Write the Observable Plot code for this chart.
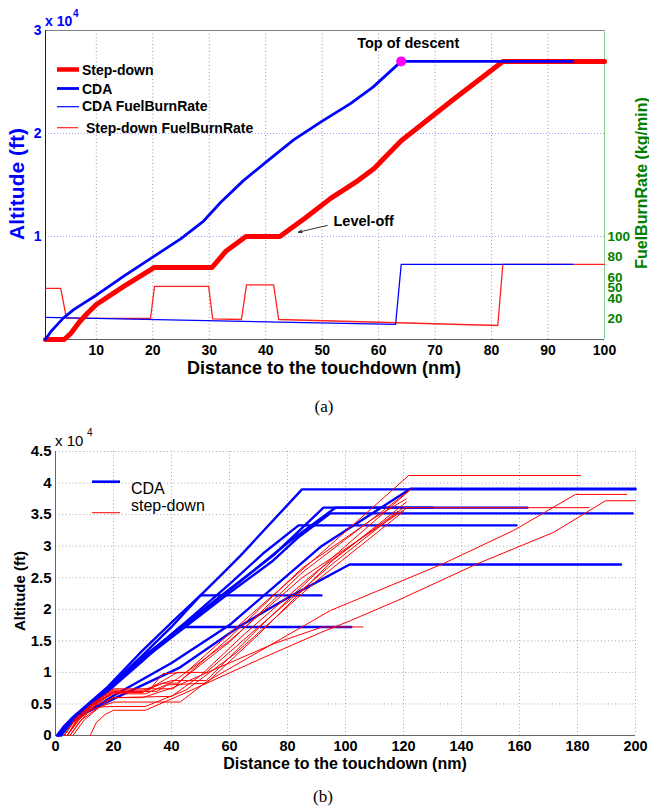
<!DOCTYPE html>
<html><head><meta charset="utf-8">
<script src="https://cdn.jsdelivr.net/npm/d3@7"></script>
<script src="https://cdn.jsdelivr.net/npm/@observablehq/plot@0.6"></script>
<style>
html,body{margin:0;padding:0;background:#fff}
body{width:649px;height:806px;position:relative;overflow:hidden;font-family:"Liberation Sans",Arial,sans-serif}
.abs{position:absolute;left:0}
#over{position:absolute;left:0;top:0;pointer-events:none}
</style></head><body>
<div id="pa" class="abs" style="top:0"></div>
<div id="pb" class="abs" style="top:420px"></div>
<svg id="over" width="649" height="806" xmlns="http://www.w3.org/2000/svg"></svg>
<script>
// ---------- Panel (a) data ----------
const aXTicks = [10, 20, 30, 40, 50, 60, 70, 80, 90, 100];
const aAltTicks = [10000, 20000, 30000];
const aFuelTicks = [20, 40, 50, 60, 80, 100];

const aCdaDist = [1, 2, 3, 4.2, 6, 8, 10, 15, 20, 25, 29, 32, 36, 40, 45, 50, 55, 59, 64, 94.4];
const aCdaAlt  = [0, 800, 1400, 2100, 2900, 3600, 4300, 6200, 8000, 9800, 11500, 13300, 15400, 17200, 19400, 21200, 22900, 24500, 27000, 27000];

const aStepDist = [1, 4.3, 5.5, 7, 8.5, 10, 15, 20.3, 30.5, 33, 36.5, 42.5, 47, 51.5, 56, 59.2, 64, 73, 82, 100];
const aStepAlt  = [0, 0, 600, 1700, 2600, 3400, 5200, 7000, 7000, 8600, 10000, 10000, 11800, 13700, 15300, 16600, 19300, 23200, 27000, 27000];

const aCdaFuelDist = [1, 63, 64, 94.4];
const aCdaFuel     = [21.4, 14.6, 73, 73];

const aStepFuelDist = [1, 3.7, 4.7, 19.6, 20.3, 29.9, 30.6, 35.7, 36.6, 41.4, 42.3, 81.1, 82, 100];
const aStepFuel     = [49.7, 49.7, 20.8, 20.4, 51.5, 51.5, 20.0, 19.4, 53.0, 53.0, 19.4, 13.6, 73, 73];

const aTopOfDescent = [64, 27000];
const aLevelOffArrow = [50.9, 11070, 45.8, 10420];
const aLevelOffText = [52, 11450];

// ---------- Panel (b) data ----------
const bXTicks = [0, 20, 40, 60, 80, 100, 120, 140, 160, 180, 200];
const bYTicks = [0, 5000, 10000, 15000, 20000, 25000, 30000, 35000, 40000, 45000];

const cda1 = [[0.5,0],[3,1500],[6,2900],[18,7700],[29,13000],[40.7,18200],[50,22200],[57.7,25700],[63.8,28500],[85,39000],[200,39000]];
const cda2 = [[1,0],[3,1300],[6,2600],[18,7300],[30,12300],[45,17800],[60,23200],[75,28500],[83,32000],[92.4,36100],[162.7,36100]];
const cda3 = [[1,0],[3,1200],[6,2500],[18,7100],[30,12000],[45,17300],[60,22600],[75,27700],[84,31500],[94.8,35200],[199,35200]];
const cda4 = [[1.5,0],[3.5,1200],[6,2400],[18,7000],[30,12200],[45,18000],[60,24000],[72,29000],[83.8,33300],[159,33300]];
const cda5 = [[1,0],[4,1500],[7.5,2900],[20,5800],[43,10800],[63.8,17400],[80,21800],[101.4,27100],[195,27100]];
const cda6 = [[1,0],[3,1400],[6,2800],[18,7500],[30,12700],[40,17200],[50,22200],[91.7,22200]];
const cda7 = [[1,0],[3,1300],[6,2500],[18,7000],[30,11800],[43,17200],[102,17200]];
const cda8 = [[2,0],[5,1800],[9,3200],[20,6300],[40,11500],[60,17500],[91.4,29900],[122.4,39100],[200,39100]];
const cda9 = [[1,0],[3,1300],[6,2600],[18,7200],[30,12400],[45,17600],[60,23000],[80,30500],[96.5,36100],[130,36100]];

const sd1  = [[4,0],[7,2200],[12,4500],[20,7000],[32,7000],[37,9800],[45,10000],[65,18200],[91.4,28800],[121.8,41200],[181,41200]];
const sd2  = [[3,0],[6,2000],[12,4800],[20,7200],[30,7200],[40,8700],[52,8700],[70,17000],[95,28000],[122.5,39000]];
const sd3  = [[5,0],[8,2000],[13,4600],[20,6800],[30,6800],[42,10000],[52,10000],[70,17200],[95,27000],[120,36100],[184,36100]];
const sd4  = [[3,0],[6,2000],[12,4000],[20,5300],[43,5300],[52,8500],[94.8,19800],[133.8,27250],[158,32500],[179.3,38200],[197,38200]];
const sd5  = [[12,0],[14,2000],[17,3300],[20,4000],[31,4000],[45,6800],[70,12000],[91.4,16300],[101.7,18200],[118,21400],[145.4,27200],[171.8,32200],[189.7,37200],[200,37200]];
const sd6  = [[4,0],[8,2500],[14,4800],[20,6000],[30,6000],[40,7500],[55,10500],[75,14500],[92,17200],[106,17200]];
const sd7  = [[3,0],[7,2800],[13,5200],[20,7400],[40.7,7400],[45,9500],[60,15500],[85,26500],[110,34500],[121,37500]];
const sd8  = [[4,0],[8,2800],[14,5200],[20,6600],[31,6600],[38,8000],[52,8300],[70,16000],[95,27500],[121,37000]];
const sd9  = [[5,0],[9,2500],[15,4500],[20,4600],[31,4600],[45,7200],[62,13000],[90,24500],[120,35500]];
const sd10 = [[4,0],[9,3000],[15,5400],[20,7000],[35,7000],[42,9000],[60,15000],[85,25000],[121,36000]];
const sd11 = [[6,0],[10,2500],[16,4800],[20,6000],[40,6200],[50,9500],[65,16000],[90,26000],[118,35500]];
const sd12 = [[3,0],[7,2600],[13,5000],[20,6900],[30,6900],[37,8300],[42,8300],[60,14800],[85,25800],[122,38800]];

const cdaSeries = [cda1, cda2, cda3, cda4, cda5, cda6, cda7, cda8, cda9];
const stepSeries = [sd1, sd2, sd3, sd4, sd5, sd6, sd7, sd8, sd9, sd10, sd11, sd12];

// ---------- helpers ----------
const zip = (xs, ys) => xs.map((x, i) => ({x, y: ys[i]}));
const rows = (series) => series.flatMap((pts, k) => pts.map(([x, y]) => ({x, y, k})));
const FONT = '"Liberation Sans", Arial, sans-serif';

// ---------- Panel (a) ----------
const plotA = Plot.plot({
  width: 649, height: 380,
  marginLeft: 45, marginRight: 45, marginTop: 30, marginBottom: 41,
  style: {fontFamily: FONT, fontSize: "14px", fontWeight: "bold", background: "transparent", overflow: "visible"},
  x: {domain: [1, 100]},
  y: {domain: [0, 30000]},
  marks: [
    Plot.ruleX(aXTicks.filter(d => d < 100), {stroke: "#999", strokeWidth: 1, strokeDasharray: "1,2.5"}),
    Plot.ruleY(aAltTicks.filter(d => d < 30000), {stroke: "#a0a0ff", strokeWidth: 1, strokeDasharray: "1,2"}),
    Plot.ruleY([30000], {stroke: "#808080"}),
    Plot.ruleY([0], {stroke: "#606060"}),
    Plot.ruleX([1], {stroke: "#0000ff"}),
    Plot.ruleX([100], {stroke: "#90d090"}),
    Plot.line(zip(aStepFuelDist, aStepFuel), {x: "x", y: d => d.y * 100, stroke: "#ff2020", strokeWidth: 1.3}),
    Plot.line(zip(aCdaFuelDist, aCdaFuel), {x: "x", y: d => d.y * 100, stroke: "#0000ff", strokeWidth: 1.3}),
    Plot.line(zip(aStepDist, aStepAlt), {x: "x", y: "y", stroke: "#ff0000", strokeWidth: 5}),
    Plot.line(zip(aCdaDist, aCdaAlt), {x: "x", y: "y", stroke: "#0000ff", strokeWidth: 2.8}),
    Plot.dot([aTopOfDescent], {x: d => d[0], y: d => d[1], r: 5, fill: "#ff00ff", stroke: "none"}),
    Plot.text([aTopOfDescent], {x: d => d[0], y: d => d[1], text: () => "Top of descent", dx: 7, dy: -18, fontSize: 14.5, fill: "#000"}),
    Plot.arrow([aLevelOffArrow], {x1: d => d[0], y1: d => d[1], x2: d => d[2], y2: d => d[3], stroke: "#000", strokeWidth: 0.8, headLength: 7, headAngle: 40}),
    Plot.text([aLevelOffText], {x: d => d[0], y: d => d[1], text: () => "Level-off", textAnchor: "start", fontSize: 14.5, fill: "#000"}),
    Plot.axisX({ticks: aXTicks, tickSize: 0, tickPadding: 6, label: null, fontSize: 14}),
    Plot.axisY({anchor: "left", ticks: aAltTicks, tickFormat: d => String(d / 10000), tickSize: 0, tickPadding: 4, label: null, color: "#0000ff", fontSize: 14}),
    Plot.axisY({anchor: "right", ticks: aFuelTicks.map(d => d * 100), tickFormat: d => String(d / 100), tickSize: 0, tickPadding: 3, label: null, color: "#008000", fontSize: 13.5})
  ]
});
document.getElementById("pa").appendChild(plotA);

// ---------- Panel (b) ----------
const plotB = Plot.plot({
  width: 649, height: 360,
  marginLeft: 55, marginRight: 14, marginTop: 31, marginBottom: 45,
  style: {fontFamily: FONT, fontSize: "15px", fontWeight: "bold", background: "transparent", overflow: "visible"},
  x: {domain: [0, 200]},
  y: {domain: [0, 45000]},
  marks: [
    Plot.ruleX(bXTicks.filter(d => d > 0), {stroke: "#a8a8a8", strokeWidth: 1, strokeDasharray: "1,2.5"}),
    Plot.ruleY(bYTicks.filter(d => d > 0), {stroke: "#a8a8a8", strokeWidth: 1, strokeDasharray: "1,2.5"}),
    Plot.ruleX([0], {stroke: "#666"}),
    Plot.ruleY([0], {stroke: "#666"}),
    Plot.line(rows(cdaSeries), {x: "x", y: "y", z: "k", stroke: "#0000ff", strokeWidth: 2.4}),
    Plot.line(rows(stepSeries), {x: "x", y: "y", z: "k", stroke: "#ff0000", strokeWidth: 1}),
    Plot.axisX({ticks: bXTicks, tickSize: 0, tickPadding: 5, label: null, fontSize: 14.5}),
    Plot.axisY({ticks: bYTicks, tickFormat: d => String(d / 10000), tickSize: 0, tickPadding: 4, label: null, fontSize: 15})
  ]
});
document.getElementById("pb").appendChild(plotB);

// ---------- Overlay texts and legends ----------
const over = d3.select("#over");
function txt(x, y, s, opts = {}) {
  const t = over.append("text").attr("x", x).attr("y", y).text(s)
    .attr("font-family", opts.family || FONT)
    .attr("font-size", opts.size || 14)
    .attr("font-weight", opts.weight || "bold")
    .attr("fill", opts.fill || "#000")
    .attr("text-anchor", opts.anchor || "start");
  if (opts.rotate) t.attr("transform", `rotate(-90,${x},${y})`).attr("dominant-baseline", "central");
  return t;
}
function seg(x1, y1, x2, y2, color, w) {
  over.append("line").attr("x1", x1).attr("y1", y1).attr("x2", x2).attr("y2", y2)
    .attr("stroke", color).attr("stroke-width", w);
}
// panel (a)
txt(45, 26, "x 10", {fill: "#0000ff", size: 14});
txt(73, 17, "4", {fill: "#0000ff", size: 10});
txt(16, 184, "Altitude (ft)", {fill: "#0000ff", size: 21, anchor: "middle", rotate: true});
txt(641, 183, "FuelBurnRate (kg/min)", {fill: "#008000", size: 16, anchor: "middle", rotate: true});
txt(324, 374, "Distance to the touchdown (nm)", {size: 18, anchor: "middle"});
seg(57, 69.5, 79, 69.5, "#ff0000", 4.5);
txt(82, 75, "Step-down", {size: 14});
seg(57, 88.5, 79, 88.5, "#0000ff", 2.8);
txt(82, 93.5, "CDA", {size: 14});
seg(57, 106.7, 79, 106.7, "#0000ff", 1.2);
txt(82, 111, "CDA FuelBurnRate", {size: 14});
seg(57, 127.7, 78, 127.7, "#ff2020", 1.2);
txt(86, 133, "Step-down FuelBurnRate", {size: 14});
txt(324, 412, "(a)", {family: '"Liberation Serif", "DejaVu Serif", serif', weight: "normal", size: 17, anchor: "middle"});
// panel (b)
txt(55, 446, "x 10", {weight: "normal", size: 15});
txt(87, 436, "4", {weight: "normal", size: 10});
txt(19, 591, "Altitude (ft)", {size: 15, anchor: "middle", rotate: true});
txt(345, 769, "Distance to the touchdown (nm)", {size: 16, anchor: "middle"});
seg(92, 481.7, 120, 481.7, "#0000ff", 2.6);
txt(131, 494, "CDA", {weight: "normal", size: 16});
seg(92, 512.7, 120, 512.7, "#ff0000", 1);
txt(131, 511, "step-down", {weight: "normal", size: 16});
txt(323, 802, "(b)", {family: '"Liberation Serif", "DejaVu Serif", serif', weight: "normal", size: 17, anchor: "middle"});
</script>
</body></html>
